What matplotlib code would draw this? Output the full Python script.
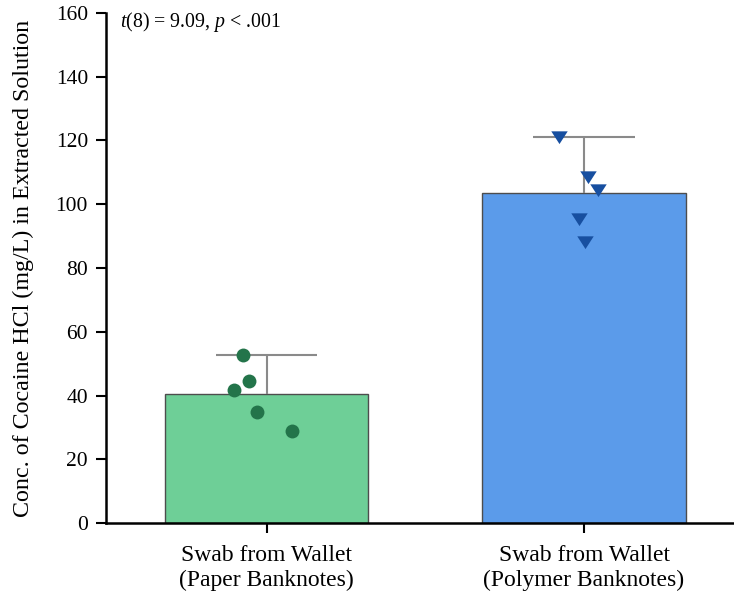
import numpy as np
import matplotlib
matplotlib.use("Agg")
import matplotlib.pyplot as plt

plt.rcParams["font.family"] = ["Liberation Serif", "DejaVu Serif"]
plt.rcParams["mathtext.fontset"] = "custom"
plt.rcParams["mathtext.rm"] = "Liberation Serif"
plt.rcParams["mathtext.it"] = "Liberation Serif:italic"

# groups and individual measurements (mg/L)
groups = ["Swab from Wallet\n(Paper Banknotes)", "Swab from Wallet\n(Polymer Banknotes)"]
paper = [52.7, 44.6, 41.7, 34.7, 29.0]
polymer = [121.2, 108.6, 104.5, 95.3, 88.3]

# horizontal scatter of the points around each bar centre
paper_jitter = [-0.073, -0.055, -0.101, -0.029, 0.081]
polymer_jitter = [-0.078, 0.012, 0.043, -0.017, 0.002]

stat_text = r"$t$(8) = 9.09, $p$ < .001"

bar_colors = ["#6ecf97", "#5b9bea"]
point_colors = ["#23744a", "#174fa0"]
markers = ["o", [(-1, 0.75), (1, 0.75), (0, -0.8)]]

fig = plt.figure(figsize=(7.34, 5.98), dpi=100)
ax = fig.add_axes([0.1444, 0.1254, 0.8542, 0.8529])

data = [paper, polymer]
jitters = [paper_jitter, polymer_jitter]
x = np.arange(len(groups))
means = [np.mean(d) for d in data]
tops = [np.max(d) for d in data]

ax.bar(x, means, width=0.64, color=bar_colors, edgecolor="#4d4d4d",
       linewidth=1.0, zorder=2)
# upper whisker from the mean to the highest value
ax.vlines(x, means, tops, color="#8a8a8a", linewidth=1.5, zorder=3)
ax.hlines(tops, x - 0.16, x + 0.16, color="#8a8a8a", linewidth=1.5, zorder=3)
for i in x:
    ax.scatter(x[i] + np.array(jitters[i]), data[i], s=100 if i == 0 else 140,
               marker=markers[i], color=point_colors[i], linewidths=0,
               zorder=4)

ax.set_xlim(-0.5055, 1.469)
ax.set_ylim(0, 160)
ax.set_yticks(np.arange(0, 161, 20))
ax.set_xticks(x)
ax.set_xticklabels(groups, fontsize=17, linespacing=1.2)
ax.tick_params(axis="y", labelsize=15.5, length=7, width=1.5, pad=6)
ax.tick_params(axis="x", length=7, width=1.5, pad=9)
ax.set_ylabel("Conc. of Cocaine HCl (mg/L) in Extracted Solution",
              fontsize=17.3)
ax.yaxis.set_label_coords(-0.115, 0.5)

for side in ["top", "right"]:
    ax.spines[side].set_visible(False)
for side in ["left", "bottom"]:
    ax.spines[side].set_linewidth(1.8)

ax.text(0.022, 0.982, stat_text, transform=ax.transAxes, fontsize=14.3,
        va="center", ha="left")

fig.savefig("out.png", dpi=100)
